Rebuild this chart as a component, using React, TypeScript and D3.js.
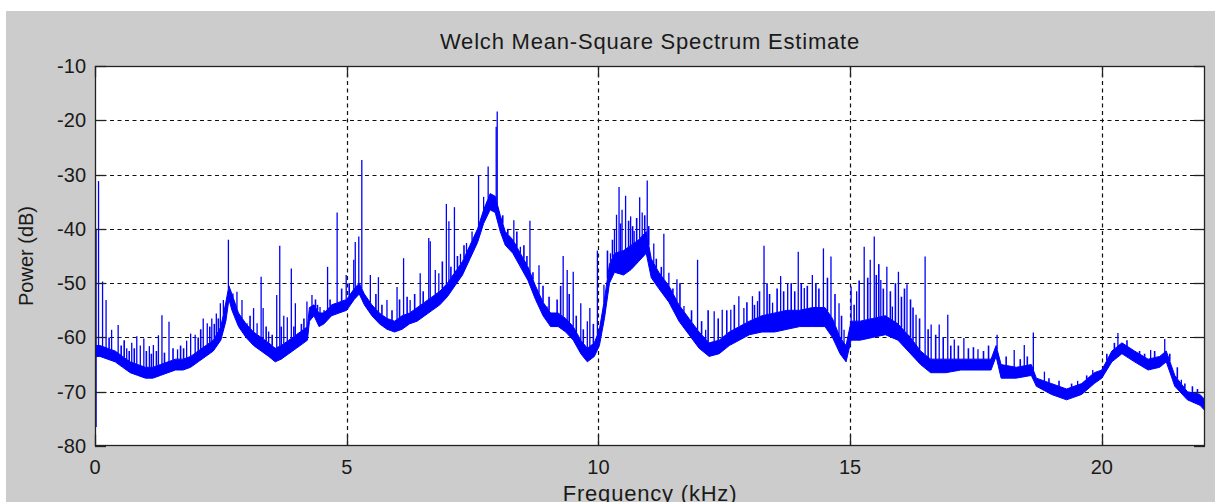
import { useEffect, useRef } from "react";
import * as d3 from "d3";

// ---------------------------------------------------------------------------
// Data
// ---------------------------------------------------------------------------

// Noise floor of the spectrum: frequency (kHz), lower and upper edge (dB)
const bandFreq = [
  0.0, 0.1, 0.25, 0.4, 0.55, 0.7, 0.85, 1.0, 1.15, 1.3, 1.45, 1.6, 1.75, 1.9,
  2.05, 2.2, 2.35, 2.5, 2.6, 2.66, 2.72, 2.85, 3.0, 3.15, 3.3, 3.45, 3.58, 3.7,
  3.85, 4.0, 4.15, 4.22, 4.26, 4.35, 4.45, 4.55, 4.7, 4.85, 5.0, 5.15, 5.25,
  5.35, 5.5, 5.65, 5.8, 5.95, 6.1, 6.25, 6.4, 6.55, 6.7, 6.85, 7.0, 7.15, 7.3,
  7.45, 7.6, 7.72, 7.85, 7.95, 8.05, 8.15, 8.3, 8.45, 8.6, 8.75, 8.9, 9.05,
  9.2, 9.35, 9.5, 9.65, 9.78, 9.92, 10.02, 10.12, 10.22, 10.32, 10.5, 10.65,
  10.8, 10.95, 11.05, 11.2, 11.4, 11.6, 11.8, 12.0, 12.2, 12.4, 12.6, 12.8,
  13.0, 13.25, 13.5, 13.75, 14.0, 14.25, 14.5, 14.65, 14.8, 14.92, 15.02, 15.2,
  15.45, 15.7, 15.95, 16.2, 16.4, 16.6, 16.9, 17.2, 17.5, 17.8, 17.9, 18.0,
  18.3, 18.6, 18.7, 19.0, 19.3, 19.6, 19.85, 20.0, 20.2, 20.4, 20.65, 20.92,
  21.15, 21.28, 21.45, 21.7, 21.95, 22.05,
];
const bandLo = [
  -63.5, -63.5, -64, -64.5, -65.5, -66.5, -67, -67.5, -67.5, -67, -66.5, -66,
  -66, -65.5, -64.5, -63.5, -62.5, -60.5, -57, -53, -55, -58, -60, -61.5, -62.5,
  -63.5, -64.5, -64, -63, -62, -61, -60.5, -57, -56, -58, -57.5, -56, -55.5,
  -55, -53, -52, -54, -56, -57.5, -58.5, -59, -58.5, -57.5, -57, -56, -55, -54,
  -52.5, -50.5, -48.5, -45.5, -42.5, -39, -36.5, -37, -40.5, -43, -44.5, -47,
  -49.5, -53, -56, -58, -58, -59, -60.5, -63, -64.5, -63.5, -61.5, -56.5, -50,
  -48, -48.5, -47.5, -46, -44.5, -49, -51, -53.5, -57, -59.5, -62, -63.5, -63,
  -61.5, -60.5, -59.5, -59, -59, -58.5, -58, -58, -58, -60, -63, -64.5, -60.5,
  -60.5, -60, -59.5, -60.5, -63, -65, -66.5, -66.5, -66, -66, -66, -63.5, -67.5,
  -67.5, -67, -69, -70.5, -71.5, -70.5, -68.5, -67.5, -64.5, -63, -64.5, -66,
  -65.5, -64.5, -69, -71.5, -72.5, -73.5,
];
const bandHi = [
  -61.5, -61.5, -62, -62.5, -63.5, -64.5, -65, -65.5, -65.5, -65, -64.5, -64,
  -64, -63.5, -62.5, -61.5, -60.5, -58, -53.5, -50.5, -52, -55.5, -57.5, -59,
  -60, -61, -62, -61.5, -60.5, -59.5, -58.5, -58, -54.5, -54, -55.5, -55.5, -54,
  -53.5, -53, -51, -50, -52, -54, -55.5, -56.5, -57, -56, -55.5, -54.5, -53.5,
  -52.5, -51.5, -50, -48, -46, -43, -40, -36.5, -33.5, -34, -37.5, -40.5, -42,
  -44.5, -47, -50.5, -53.5, -55.5, -55.5, -56.5, -58, -60.5, -62, -61, -58.5,
  -53, -46.5, -44.5, -44, -43, -42, -40.5, -45.5, -48, -50.5, -54, -56.5, -59,
  -61, -60.5, -59, -58, -57, -56, -55.5, -55, -55, -54.5, -54.5, -56.5, -60,
  -61.5, -57, -57, -56.5, -56, -57.5, -60, -62.5, -64, -64, -64, -64, -64, -61.5,
  -65, -65.5, -65, -67.5, -68.5, -69.5, -68.5, -66.5, -66, -62.5, -61, -62.5,
  -64, -63.5, -62.5, -67, -70, -70.5, -71.5,
];

// Narrow tonal peaks: frequency (kHz) and peak level (dB)
const spikeFreq = [
  0.07, 0.15, 0.22, 0.33, 0.46, 0.63, 0.73, 0.83, 0.9, 0.97, 1.08, 1.16, 1.26,
  1.33, 1.47, 1.64, 1.82, 1.9, 1.99, 2.15, 2.23, 2.32, 2.41, 2.49, 2.55, 2.65,
  2.74, 2.82, 2.92, 3.02, 3.15, 3.22, 3.3, 3.34, 3.45, 3.61, 3.67, 3.75, 3.82,
  3.9, 3.98, 4.04, 4.21, 4.31, 4.47, 4.62, 4.81, 4.99, 5.14, 5.17, 5.24, 5.3,
  5.47, 5.63, 5.8, 6.0, 6.13, 6.26, 6.46, 6.63, 6.66, 6.76, 6.83, 6.98, 7.03,
  7.14, 7.26, 7.38, 7.49, 7.62, 7.72, 7.81, 7.97, 7.99, 8.32, 8.45, 8.64, 8.82,
  8.98, 9.11, 9.3, 9.38, 9.5, 9.65, 9.78, 9.83, 9.98, 10.11, 10.24, 10.32,
  10.36, 10.41, 10.47, 10.54, 10.64, 10.71, 10.82, 10.87, 10.97, 11.1, 11.3,
  11.4, 11.56, 11.7, 11.97, 12.13, 12.3, 12.46, 12.63, 12.79, 12.89, 13.06,
  13.16, 13.29, 13.46, 13.62, 13.76, 13.97, 14.09, 14.25, 14.47, 14.62, 14.78,
  14.88, 15.02, 15.13, 15.28, 15.4, 15.48, 15.61, 15.73, 15.84, 15.96, 16.13,
  16.31, 16.49, 16.61, 16.77, 16.94, 17.07, 17.26, 17.54, 17.92, 18.26, 18.46,
  18.64, 18.86, 19.52, 19.82, 20.32, 20.97, 21.25, 21.58,
];
const spikePeak = [
  -31.2, -49.7, -53.1, -58.6, -57.7, -62, -61, -59.8, -61.5, -60.2, -61.6,
  -61.4, -59.6, -55.9, -57.1, -62.2, -60.6, -59.3, -59.5, -56.5, -57.4, -56.5,
  -55.6, -53.7, -53.1, -42, -51.9, -51.6, -53.1, -57.4, -54.6, -57.4, -48.8,
  -54.6, -58.9, -52.2, -43.1, -56, -56.3, -47.3, -53.7, -59.5, -53.4, -52.2,
  -54.4, -47, -37, -48.5, -45.7, -42.4, -41.4, -27.3, -48.5, -48.9, -53.1,
  -50.7, -45.4, -53.1, -48.2, -41.7, -42.3, -47.6, -48.2, -35.4, -38.6, -36,
  -44.6, -42.6, -40.5, -30.1, -34.1, -28.5, -21.2, -18.4, -38.4, -43.3, -38.5,
  -46.7, -54.3, -55.6, -45, -47.6, -47.9, -53.7, -57, -54.6, -44, -50.3, -44.5,
  -40.2, -37.4, -32.3, -36.5, -33.9, -37.7, -40.4, -34.2, -37, -31.1, -42.7,
  -40.9, -48.1, -49.3, -54.2, -45.7, -58.6, -55.2, -54.9, -54.9, -52.4, -54.6,
  -52.4, -53.3, -43.1, -53.6, -48.7, -50, -44.2, -50.9, -48.5, -43.6, -45.1,
  -53.7, -58.6, -50.6, -51.5, -43.3, -45.7, -41.4, -49.4, -47, -54.3, -47.9,
  -50.2, -55.8, -45.1, -57.6, -57.6, -55.8, -60.4, -60.1, -62.2, -59.5, -62.3,
  -61.4, -59.1, -66.3, -68, -66, -59.2, -62.3, -60.3, -67.8,
];

// Smaller bumps riding on the noise floor
const minorFreq = [
  0.28, 0.52, 0.58, 0.68, 0.78, 1.02, 1.12, 1.22, 1.38, 1.55, 1.7, 1.76, 2.05,
  2.1, 2.28, 2.37, 2.45, 3.08, 3.4, 3.52, 3.7, 3.95, 4.1, 4.15, 4.38, 4.42, 4.55,
  4.67, 4.9, 5.05, 5.58, 5.7, 5.9, 6.05, 6.2, 6.35, 6.52, 6.9, 7.07, 7.2, 7.33,
  8.1, 8.2, 8.38, 8.52, 8.58, 8.7, 8.9, 9.02, 9.18, 9.25, 9.42, 9.56, 9.7, 9.9,
  10.18, 10.28, 10.44, 10.6, 10.68, 10.76, 10.92, 11.0, 11.15, 11.25, 11.48,
  11.62, 11.85, 12.05, 12.18, 12.38, 12.55, 12.7, 12.95, 13.1, 13.2, 13.35,
  13.4, 13.55, 13.68, 13.83, 13.9, 14.03, 14.15, 14.32, 14.38, 14.55, 14.7,
  14.83, 15.08, 15.18, 15.35, 15.52, 15.57, 15.66, 15.8, 15.9, 16.02, 16.08,
  16.2, 16.25, 16.38, 16.55, 16.7, 16.85, 17.0, 17.15, 17.35, 17.45, 17.65,
  17.75, 18.1, 18.38, 18.52, 18.95, 19.15, 19.4, 19.7, 20.1, 20.25, 20.5, 20.75,
  20.85, 21.05, 21.35, 21.5, 21.65, 21.8, 21.9,
];
const minorPeak = [
  -60, -61.5, -60.5, -62.5, -62, -62.5, -63, -62.5, -62.8, -62, -61.5, -62, -60,
  -58.5, -58, -57.5, -56.5, -56, -58, -59.5, -58, -58, -57.5, -56.5, -53, -54,
  -55, -53, -51, -50, -52, -54, -55, -53, -52.5, -52, -51.5, -46, -47, -45, -43,
  -37.5, -40, -40.5, -43, -45, -48, -50.5, -52.5, -53, -50.5, -52, -56, -58.5,
  -57.5, -44, -42, -39, -38.5, -39.5, -38, -37.5, -39.5, -45.5, -47, -51, -50,
  -55, -57, -55, -56.5, -55, -54, -53.5, -54, -51.5, -50, -52, -51, -51.5, -50,
  -51.5, -50, -50.5, -50, -51, -49, -52, -56, -54, -49.5, -49, -48.5, -46.5, -51,
  -51.5, -50, -52.5, -51, -53, -54.5, -56.5, -58.5, -59.5, -60, -61.5, -61.5,
  -62, -61.8, -62.5, -61.5, -63.5, -64, -63.5, -67.5, -68, -68.5, -67, -63, -61,
  -60.5, -62.5, -63, -62.5, -63, -65.5, -68.5, -69, -69.5,
];

// DC bin: the trace starts low at 0 Hz and shoots up
const dcFloor = -76.5;
const dcPeak = -40;

const xTicks = [0, 5, 10, 15, 20];
const yTicks = [-80, -70, -60, -50, -40, -30, -20, -10];

// ---------------------------------------------------------------------------
// Component
// ---------------------------------------------------------------------------

const WIDTH = 1215;
const HEIGHT = 502;
const FONT = "'Liberation Sans', Arial, sans-serif";
const BLUE = "#0000ff";

export default function App() {
  const svgRef = useRef<SVGSVGElement>(null);

  useEffect(() => {
    const svg = d3.select(svgRef.current);
    svg.selectAll("*").remove();

    const left = 95;
    const right = 1205;
    const top = 66;
    const bottom = 446;

    const x = d3.scaleLinear().domain([0, 22.05]).range([left, right]);
    const y = d3.scaleLinear().domain([-80, -10]).range([bottom, top]);
    const floorTop = d3.scaleLinear().domain(bandFreq).range(bandHi);

    // ---- Figure background ----
    svg
      .append("rect")
      .attr("x", 6)
      .attr("y", 11)
      .attr("width", WIDTH - 6)
      .attr("height", HEIGHT - 11)
      .attr("fill", "#cccccc");

    svg
      .append("rect")
      .attr("x", left)
      .attr("y", top)
      .attr("width", right - left)
      .attr("height", bottom - top)
      .attr("fill", "#ffffff");

    // ---- Dashed grid ----
    const grid = svg
      .append("g")
      .attr("stroke", "#111")
      .attr("stroke-width", 1.2)
      .attr("stroke-dasharray", "4,3.5");
    xTicks.slice(1).forEach((t) => {
      const px = Math.round(x(t)) + 0.5;
      grid.append("line").attr("x1", px).attr("x2", px).attr("y1", top).attr("y2", bottom);
    });
    yTicks.slice(1, -1).forEach((t) => {
      const py = Math.round(y(t)) + 0.5;
      grid.append("line").attr("x1", left).attr("x2", right).attr("y1", py).attr("y2", py);
    });

    // ---- Spectrum ----
    svg
      .append("clipPath")
      .attr("id", "plot-clip")
      .append("rect")
      .attr("x", left)
      .attr("y", top)
      .attr("width", right - left)
      .attr("height", bottom - top);

    const data = svg.append("g").attr("clip-path", "url(#plot-clip)");

    const band = d3
      .area<number>()
      .x((_d, i) => x(bandFreq[i]))
      .y0((_d, i) => y(bandLo[i]))
      .y1((_d, i) => y(bandHi[i]));

    data
      .append("path")
      .attr("d", band(bandFreq))
      .attr("fill", BLUE)
      .attr("stroke", BLUE)
      .attr("stroke-width", 1)
      .attr("stroke-linejoin", "round");

    minorFreq.forEach((f, i) => {
      data
        .append("line")
        .attr("x1", x(f))
        .attr("x2", x(f))
        .attr("y1", y(floorTop(f)))
        .attr("y2", y(minorPeak[i]))
        .attr("stroke", BLUE)
        .attr("stroke-width", 1.6);
    });

    spikeFreq.forEach((f, i) => {
      data
        .append("line")
        .attr("x1", x(f))
        .attr("x2", x(f))
        .attr("y1", y(floorTop(f)))
        .attr("y2", y(spikePeak[i]))
        .attr("stroke", BLUE)
        .attr("stroke-width", 1.3);
    });

    data
      .append("line")
      .attr("x1", x(0) + 1)
      .attr("x2", x(0) + 1)
      .attr("y1", y(dcFloor))
      .attr("y2", y(dcPeak))
      .attr("stroke", BLUE)
      .attr("stroke-width", 1.5);

    // ---- Axes box + ticks ----
    const axes = svg
      .append("g")
      .attr("stroke", "#222")
      .attr("stroke-width", 1.3)
      .attr("fill", "none");
    axes
      .append("rect")
      .attr("x", left + 0.5)
      .attr("y", top + 0.5)
      .attr("width", right - left - 1)
      .attr("height", bottom - top - 1);

    const tickLen = 11;
    xTicks.forEach((t) => {
      const px = Math.round(x(t)) + 0.5;
      axes.append("line").attr("x1", px).attr("x2", px).attr("y1", bottom).attr("y2", bottom - tickLen);
      axes.append("line").attr("x1", px).attr("x2", px).attr("y1", top).attr("y2", top + tickLen);
    });
    yTicks.forEach((t) => {
      const py = Math.round(y(t)) + 0.5;
      axes.append("line").attr("x1", left).attr("x2", left + tickLen).attr("y1", py).attr("y2", py);
      axes.append("line").attr("x1", right).attr("x2", right - tickLen).attr("y1", py).attr("y2", py);
    });

    // ---- Tick labels ----
    const labels = svg
      .append("g")
      .attr("fill", "#1a1a1a")
      .attr("font-family", FONT)
      .attr("font-size", 20);

    yTicks.forEach((t) => {
      labels
        .append("text")
        .attr("x", left - 9)
        .attr("y", y(t))
        .attr("text-anchor", "end")
        .attr("dominant-baseline", "central")
        .text(t);
    });

    xTicks.forEach((t) => {
      labels
        .append("text")
        .attr("x", x(t))
        .attr("y", bottom + 28)
        .attr("text-anchor", "middle")
        .text(t);
    });

    // ---- Titles ----
    labels
      .append("text")
      .attr("x", (left + right) / 2)
      .attr("y", 49)
      .attr("text-anchor", "middle")
      .attr("font-size", 22)
      .attr("letter-spacing", 0.8)
      .text("Welch Mean-Square Spectrum Estimate");

    labels
      .append("text")
      .attr("x", (left + right) / 2)
      .attr("y", 501)
      .attr("text-anchor", "middle")
      .attr("font-size", 22)
      .attr("letter-spacing", 0.8)
      .text("Frequency (kHz)");

    labels
      .append("text")
      .attr("transform", `translate(33, ${(top + bottom) / 2}) rotate(-90)`)
      .attr("text-anchor", "middle")
      .text("Power (dB)");
  }, []);

  return (
    <svg
      ref={svgRef}
      width={WIDTH}
      height={HEIGHT}
      style={{ position: "absolute", left: 0, top: 0, display: "block", background: "#fff" }}
    />
  );
}
